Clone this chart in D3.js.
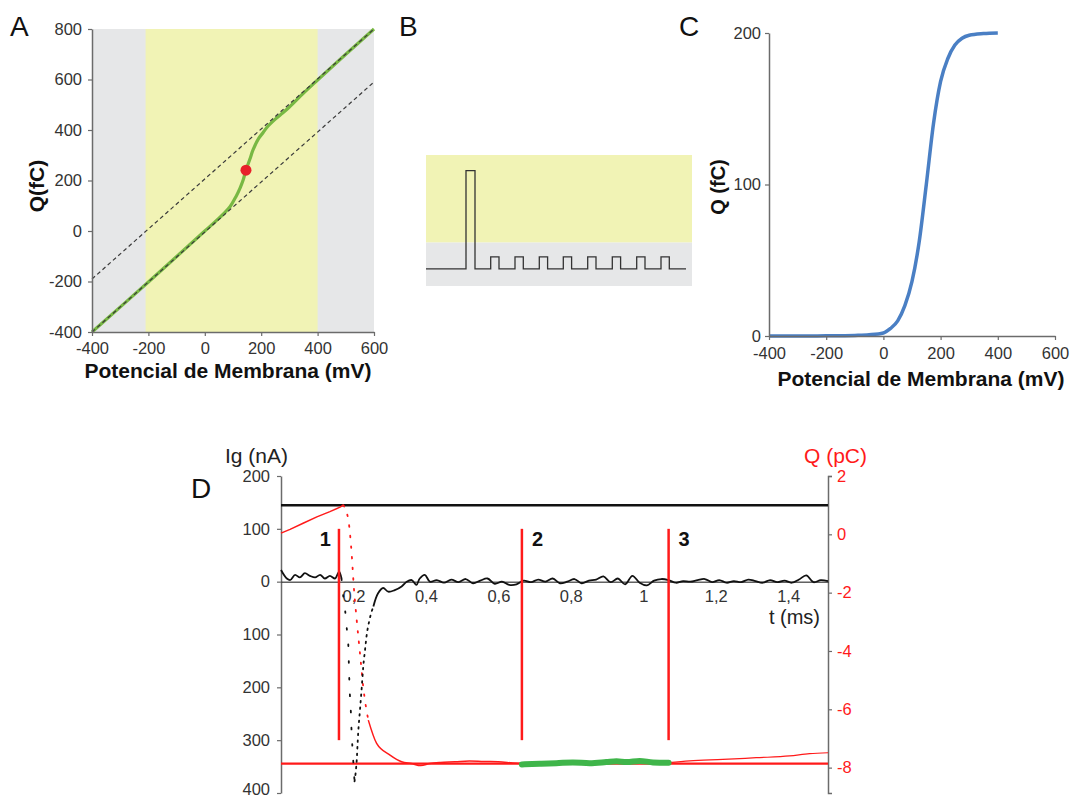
<!DOCTYPE html>
<html>
<head>
<meta charset="utf-8">
<script src="https://cdn.jsdelivr.net/npm/d3@7"></script>
<style>
  body { margin: 0; background: #fff; }
  svg { display: block; font-family: "Liberation Sans", Arial, sans-serif; }
</style>
</head>
<body>
<svg id="fig" width="1075" height="800"></svg>
<script>
// ---------- data ----------
// Panel A: Q vs V with the two linear asymptotes
const aTicksX = [-400, -200, 0, 200, 400, 600];
const aTicksY = [-400, -200, 0, 200, 400, 600, 800];
const aYellow = [-210, 400];
const aCurveV = [-400, -200, 0, 40, 70, 90, 110, 125, 136, 146, 160, 171, 190, 207, 220, 250, 277, 300, 350, 400, 500, 600];
const aCurveQ = [-400, -202, 0, 40, 72, 97, 135, 170, 202, 241, 285, 321, 365, 390, 410, 443, 468, 491, 546, 598, 700, 800];
const aDashLowV = [-400, 600], aDashLowQ = [-400, 590];
const aDashHighV = [-400, 600], aDashHighQ = [-190, 800];
const aMid = [146, 241];

// Panel B: pulse protocol (time units, voltage units)
const bPulseStart = [40, 64.7, 89, 113.3, 137.3, 161.7, 186.3, 210.7, 235];
const bPulseWidth = [9, 8.3, 8.3, 8.3, 8.3, 8.3, 8.3, 8.3, 8.3];
const bPulseLevel = [8.2, 1, 1, 1, 1, 1, 1, 1, 1];
const bEnd = 260;
const bBoundary = 2.2;

// Panel C: Q-V sigmoid
const cTicksX = [-400, -200, 0, 200, 400, 600];
const cTicksY = [0, 100, 200];
const cV = [-400, -300, -200, -100, -50, 0, 25, 50, 75, 100, 125, 150, 175, 200, 225, 250, 275, 300, 350, 400];
const cQ = [0, 0, 0.1, 0.4, 0.8, 2, 5, 10, 20, 36, 62, 100, 140, 168, 183, 192, 196.5, 198.5, 199.6, 200];

// Panel D: gating current (nA) and charge (pC) vs time (ms)
const dTicksT = [0.2, 0.4, 0.6, 0.8, 1, 1.2, 1.4];
const dTickLabelsT = ['0,2', '0,4', '0,6', '0,8', '1', '1,2', '1,4'];
const dTicksIg = [200, 100, 0, -100, -200, -300, -400];
const dTicksQ = [2, 0, -2, -4, -6, -8];

const igRestT = [0, 0.016, 0.025, 0.039, 0.052, 0.066, 0.080, 0.094, 0.108, 0.121, 0.135, 0.149, 0.161, 0.167];
const igRestV = [22, 6, 3, 13, 8, 16, 11, 8, 13, 6, 11, 6, 19, 6];
const igDownT = [0.167, 0.172, 0.177, 0.181, 0.186, 0.188, 0.190, 0.193, 0.195, 0.198, 0.201, 0.203];
const igDownV = [6, -28, -54, -85, -123, -173, -211, -249, -287, -322, -357, -378];
const igUpT = [0.203, 0.209, 0.213, 0.218, 0.223, 0.227, 0.232, 0.236, 0.244, 0.255];
const igUpV = [-378, -338, -287, -243, -199, -161, -129, -104, -73, -47];
const igTailT = [0.255, 0.268, 0.282, 0.296, 0.314, 0.333, 0.347, 0.361, 0.374, 0.383, 0.397, 0.411,
  0.43, 0.45, 0.47, 0.49, 0.51, 0.53, 0.55, 0.57, 0.59, 0.61, 0.63, 0.65, 0.67, 0.69, 0.71, 0.73, 0.75,
  0.77, 0.79, 0.81, 0.83, 0.85, 0.87, 0.89, 0.91, 0.93, 0.95, 0.97, 0.99, 1.01, 1.03, 1.05, 1.07, 1.09,
  1.11, 1.13, 1.15, 1.17, 1.19, 1.21, 1.23, 1.25, 1.27, 1.29, 1.31, 1.33, 1.35, 1.37, 1.39, 1.41, 1.43,
  1.45, 1.47, 1.49, 1.51];
const igTailV = [-47, -22, -12, -19, -16, -9, 0, 3, -6, 6, 13, 0,
  3, -2, 4, -1, 5, -3, 2, 6, -4, 0, -6, -5, 2, -1, 4, 0, 6,
  -3, 0, 5, -3, 2, 4, 10, -1, 6, -5, 11, -2, -7, 2, 5, 3, -2,
  1, 0, 3, 5, -1, 3, -2, 1, -1, 4, 1, -2, 3, -1, 2, -2, 4,
  12, -1, 3, 1];

const qRiseT = [0, 0.025, 0.061, 0.099, 0.135, 0.163, 0.172];
const qRiseV = [0.04, 0.17, 0.38, 0.60, 0.78, 0.93, 1.0];
const qFallT = [0.172, 0.186, 0.195, 0.201, 0.209, 0.218, 0.227, 0.241];
const qFallV = [1.0, 0.49, -0.65, -1.80, -2.94, -4.08, -5.23, -6.37];
const qSettleT = [0.241, 0.264, 0.301, 0.333, 0.36, 0.386, 0.41, 0.44, 0.48, 0.52, 0.56, 0.60, 0.64, 0.665];
const qSettleV = [-6.37, -7.17, -7.57, -7.80, -7.86, -7.93, -7.86, -7.82, -7.80, -7.77, -7.79, -7.80, -7.84, -7.86];
const qGreenT = [0.665, 0.714, 0.760, 0.806, 0.852, 0.898, 0.926, 0.954, 0.990, 1.027, 1.07];
const qGreenV = [-7.89, -7.87, -7.85, -7.82, -7.85, -7.81, -7.78, -7.81, -7.77, -7.82, -7.83];
const qTailT = [1.07, 1.128, 1.220, 1.312, 1.404, 1.459, 1.51];
const qTailV = [-7.83, -7.77, -7.72, -7.66, -7.60, -7.52, -7.49];

const qTop = 1;        // black reference line (pC)
const qBase = -7.86;   // red reference line (pC)
const markT = [0.16, 0.665, 1.07];
const markLabels = ['1', '2', '3'];
const markIg = [100, -300];

// ---------- helpers ----------
const svg = d3.select('#fig');
const zip = (xs, ys) => xs.map((x, i) => [x, ys[i]]);
const GRAY = '#e6e7e8', YELLOW = '#f1f3b5', AXIS = '#6b6b6b', TXT = '#333';
const TICK_FS = 16.5, TITLE_FS = 21;
const plain = d => String(d);

function styleAxis(g, color) {
  g.select('.domain').attr('stroke', AXIS).attr('stroke-width', 1.5);
  g.selectAll('.tick line').attr('stroke', AXIS).attr('stroke-width', 1.2);
  g.selectAll('.tick text').attr('fill', color || TXT).attr('font-size', TICK_FS)
    .attr('font-family', '"Liberation Sans", Arial, sans-serif');
}

function letter(x, y, t) {
  svg.append('text').attr('x', x).attr('y', y).attr('font-size', 28).attr('fill', '#111').text(t);
}

// ---------- panel A ----------
const aX = d3.scaleLinear().domain([-400, 600]).range([92, 374]);
const aY = d3.scaleLinear().domain([-400, 800]).range([332, 29]);
const A = svg.append('g');

A.append('rect').attr('x', aX(-400)).attr('y', aY(800))
  .attr('width', aX(600) - aX(-400)).attr('height', aY(-400) - aY(800)).attr('fill', GRAY);
A.append('rect').attr('x', aX(aYellow[0])).attr('y', aY(800))
  .attr('width', aX(aYellow[1]) - aX(aYellow[0])).attr('height', aY(-400) - aY(800)).attr('fill', YELLOW);

A.append('path').datum(zip(aCurveV, aCurveQ))
  .attr('d', d3.line().x(d => aX(d[0])).y(d => aY(d[1])).curve(d3.curveCatmullRom.alpha(0.5)))
  .attr('fill', 'none').attr('stroke', '#78b843').attr('stroke-width', 3.2);
[zip(aDashLowV, aDashLowQ), zip(aDashHighV, aDashHighQ)].forEach(seg => {
  A.append('path').datum(seg).attr('d', d3.line().x(d => aX(d[0])).y(d => aY(d[1])))
    .attr('fill', 'none').attr('stroke', '#3a3a3a').attr('stroke-width', 1.2)
    .attr('stroke-dasharray', '4,3');
});
A.append('circle').attr('cx', aX(aMid[0])).attr('cy', aY(aMid[1])).attr('r', 5.5).attr('fill', '#e8202a');

A.append('g').attr('transform', `translate(0,${aY(-400)})`)
  .call(d3.axisBottom(aX).tickValues(aTicksX).tickFormat(plain).tickSize(4).tickSizeOuter(0).tickPadding(6))
  .call(g => styleAxis(g));
A.append('g').attr('transform', `translate(${aX(-400)},0)`)
  .call(d3.axisLeft(aY).tickValues(aTicksY).tickFormat(plain).tickSize(4).tickSizeOuter(0).tickPadding(6))
  .call(g => styleAxis(g));

A.append('text').attr('x', 228).attr('y', 378).attr('text-anchor', 'middle')
  .attr('font-size', TITLE_FS).attr('font-weight', 'bold').attr('fill', '#111').text('Potencial de Membrana (mV)');
A.append('text').attr('transform', 'translate(44,186) rotate(-90)').attr('text-anchor', 'middle')
  .attr('font-size', TITLE_FS).attr('font-weight', 'bold').attr('fill', '#111').text('Q(fC)');
letter(10, 36, 'A');

// ---------- panel B ----------
const bX = d3.scaleLinear().domain([0, 266]).range([426, 692]);
const bY = d3.scaleLinear().domain([-1.42, 9.5]).range([286, 155]);
const B = svg.append('g');
B.append('rect').attr('x', bX(0)).attr('y', bY(9.5)).attr('width', bX(266) - bX(0))
  .attr('height', bY(bBoundary) - bY(9.5)).attr('fill', YELLOW);
B.append('rect').attr('x', bX(0)).attr('y', bY(bBoundary)).attr('width', bX(266) - bX(0))
  .attr('height', bY(-1.42) - bY(bBoundary)).attr('fill', GRAY);

const bPts = [[0, 0]];
bPulseStart.forEach((s, i) => {
  bPts.push([s, 0], [s, bPulseLevel[i]], [s + bPulseWidth[i], bPulseLevel[i]], [s + bPulseWidth[i], 0]);
});
bPts.push([bEnd, 0]);
B.append('path').datum(bPts).attr('d', d3.line().x(d => bX(d[0])).y(d => bY(d[1])))
  .attr('fill', 'none').attr('stroke', '#333').attr('stroke-width', 1.3);
letter(399, 36, 'B');

// ---------- panel C ----------
const cX = d3.scaleLinear().domain([-400, 600]).range([769, 1055]);
const cY = d3.scaleLinear().domain([0, 200]).range([336, 33]);
const C = svg.append('g');
C.append('path').datum(zip(cV, cQ))
  .attr('d', d3.line().x(d => cX(d[0])).y(d => cY(d[1])).curve(d3.curveMonotoneX))
  .attr('fill', 'none').attr('stroke', '#4a7fc4').attr('stroke-width', 3.5);
C.append('g').attr('transform', `translate(0,${cY(0)})`)
  .call(d3.axisBottom(cX).tickValues(cTicksX).tickFormat(plain).tickSize(4).tickSizeOuter(0).tickPadding(7))
  .call(g => styleAxis(g));
C.append('g').attr('transform', `translate(${cX(-400)},0)`)
  .call(d3.axisLeft(cY).tickValues(cTicksY).tickFormat(plain).tickSize(4).tickSizeOuter(0).tickPadding(4))
  .call(g => styleAxis(g));
C.append('text').attr('x', 921).attr('y', 386).attr('text-anchor', 'middle')
  .attr('font-size', TITLE_FS).attr('font-weight', 'bold').attr('fill', '#111').text('Potencial de Membrana (mV)');
C.append('text').attr('transform', 'translate(725,187) rotate(-90)').attr('text-anchor', 'middle')
  .attr('font-size', 20).attr('font-weight', 'bold').attr('fill', '#111').text('Q (fC)');
letter(679, 36, 'C');

// ---------- panel D ----------
const dX = d3.scaleLinear().domain([0, 1.51]).range([281, 828]);
const dYl = d3.scaleLinear().domain([-400, 200]).range([793, 476]);
const dYr = d3.scaleLinear().domain([-8.87, 2]).range([793, 476]);
const D = svg.append('g');
const igLine = d3.line().x(d => dX(d[0])).y(d => dYl(d[1]));
const qLine = d3.line().x(d => dX(d[0])).y(d => dYr(d[1]));
const RED = '#ff1a1a';

// axes
D.append('g').attr('transform', `translate(${dX(0)},0)`)
  .call(d3.axisLeft(dYl).tickValues(dTicksIg).tickSize(4).tickSizeOuter(0).tickPadding(7)
    .tickFormat(d => String(Math.abs(d))))
  .call(g => styleAxis(g))
  .call(g => g.selectAll('.tick text').filter(d => d === -400).attr('dy', '0.12em'));
D.append('g').attr('transform', `translate(${dX(1.51)},0)`)
  .call(d3.axisRight(dYr).tickValues(dTicksQ).tickFormat(plain).tickSize(4).tickSizeOuter(4).tickPadding(5))
  .call(g => styleAxis(g, RED));
D.append('g').attr('transform', `translate(0,${dYl(0)})`)
  .call(d3.axisBottom(dX).tickValues(dTicksT).tickSize(0).tickPadding(9)
    .tickFormat((d, i) => dTickLabelsT[i]))
  .call(g => { styleAxis(g); g.select('.domain').attr('stroke', '#111').attr('stroke-width', 1); });

// reference lines
D.append('line').attr('x1', dX(0)).attr('x2', dX(1.51)).attr('y1', dYr(qTop)).attr('y2', dYr(qTop))
  .attr('stroke', '#111').attr('stroke-width', 2.5);
D.append('line').attr('x1', dX(0)).attr('x2', dX(1.51)).attr('y1', dYr(qBase)).attr('y2', dYr(qBase))
  .attr('stroke', RED).attr('stroke-width', 2.2);

// Q trace
D.append('path').datum(zip(qRiseT, qRiseV)).attr('d', qLine).attr('fill', 'none')
  .attr('stroke', RED).attr('stroke-width', 1.5);
D.append('path').datum(zip(qFallT, qFallV)).attr('d', qLine.curve(d3.curveMonotoneX)).attr('fill', 'none')
  .attr('stroke', RED).attr('stroke-width', 1.8).attr('stroke-dasharray', '1.6,9').attr('stroke-linecap', 'round');
D.append('path').datum(zip(qSettleT, qSettleV)).attr('d', qLine).attr('fill', 'none')
  .attr('stroke', RED).attr('stroke-width', 1.5);
D.append('path').datum(zip(qTailT, qTailV)).attr('d', qLine).attr('fill', 'none')
  .attr('stroke', RED).attr('stroke-width', 1.2);
D.append('path').datum(zip(qGreenT, qGreenV)).attr('d', qLine).attr('fill', 'none')
  .attr('stroke', '#3fb54a').attr('stroke-width', 6).attr('stroke-linecap', 'round');

// Ig trace
D.append('path').datum(zip(igRestT, igRestV)).attr('d', igLine.curve(d3.curveMonotoneX)).attr('fill', 'none')
  .attr('stroke', '#111').attr('stroke-width', 1.8);
D.append('path').datum(zip(igDownT, igDownV)).attr('d', igLine).attr('fill', 'none')
  .attr('stroke', '#111').attr('stroke-width', 1.8).attr('stroke-dasharray', '1.6,15').attr('stroke-linecap', 'round');
D.append('path').datum(zip(igUpT, igUpV)).attr('d', igLine).attr('fill', 'none')
  .attr('stroke', '#111').attr('stroke-width', 1.8).attr('stroke-dasharray', '1.6,5').attr('stroke-linecap', 'round');
D.append('path').datum(zip(igTailT, igTailV)).attr('d', igLine.curve(d3.curveCatmullRom)).attr('fill', 'none')
  .attr('stroke', '#111').attr('stroke-width', 1.8);

// analysis markers
markT.forEach((t, i) => {
  D.append('line').attr('x1', dX(t)).attr('x2', dX(t)).attr('y1', dYl(markIg[0])).attr('y2', dYl(markIg[1]))
    .attr('stroke', RED).attr('stroke-width', 2.5);
  D.append('text').attr('x', i === 0 ? dX(t) - 8 : dX(t) + 10).attr('y', dYl(markIg[0]) + 17)
    .attr('text-anchor', i === 0 ? 'end' : 'start').attr('font-size', 20).attr('font-weight', 'bold')
    .attr('fill', '#111').text(markLabels[i]);
});

D.append('text').attr('x', 225).attr('y', 463).attr('font-size', TITLE_FS).attr('fill', '#222').text('Ig (nA)');
D.append('text').attr('x', 804).attr('y', 463).attr('font-size', TITLE_FS)
  .attr('fill', RED).text('Q (pC)');
D.append('text').attr('x', 820).attr('y', 624).attr('text-anchor', 'end').attr('font-size', 20)
  .attr('fill', '#222').text('t (ms)');
letter(191, 498, 'D');
</script>
</body>
</html>
